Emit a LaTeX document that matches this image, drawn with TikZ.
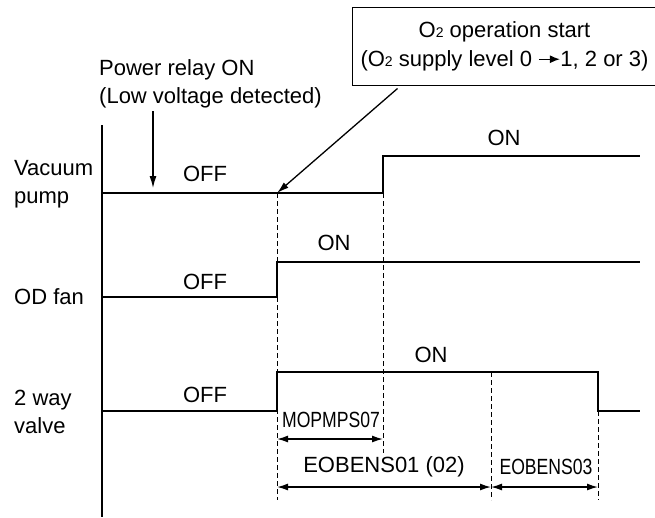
\documentclass[tikz,border=0pt]{standalone}
\usepackage{fontspec}
\setmainfont{Liberation Sans}
\newfontfamily\condfont[FakeStretch=0.8]{Liberation Sans}
\usetikzlibrary{arrows.meta,positioning}

\newcommand{\Otwo}{O{\fontsize{14}{14}\selectfont 2}}
\newcommand{\levelto}{\tikz[baseline=-0.6ex]\draw[-{Latex[length=10pt,width=8pt]}, line width=1.2pt] (0,0) -- (21pt,0);}

\begin{document}
\begin{tikzpicture}[
    x=1pt, y=-1pt,
    font=\fontsize{22}{28}\selectfont,
    signal/.style={line width=2.6pt, line join=miter},
    axis/.style={line width=1.5pt},
    guide/.style={line width=1pt, dash pattern=on 5pt off 3pt},
    span/.style={{Latex[length=11pt,width=7pt]}-{Latex[length=11pt,width=7pt]}, line width=1.4pt},
    arrow/.style={-{Latex[length=12pt,width=7pt]}, line width=1.3pt},
    lbl/.style={inner sep=0pt},
    signame/.style={inner sep=0pt, anchor=west, align=left},
    callout/.style={draw, line width=1pt, align=center, inner sep=0pt, minimum width=305pt, minimum height=78pt, font=\fontsize{22}{29}\selectfont}
]
\useasboundingbox (0,0) rectangle (655,517);

% signal names
\node[signame] (vp) at (14,184) {Vacuum\\pump};
\node[signame] (od) at (14,297) {OD fan};
\node[signame] (vv) at (14,412) {2 way\\valve};

% time axis
\draw[axis] (102,125) -- (102,517);

% guide lines
\draw[guide] (277,193) -- (277,500);
\draw[guide] (383,193) -- (383,453);
\draw[guide] (491,372) -- (491,500);
\draw[guide] (598,411) -- (598,500);

% waveforms
\draw[signal] (102,193) -- (383,193) -- (383,156) -- (640,156);
\draw[signal] (102,297) -- (277,297) -- (277,262) -- (640,262);
\draw[signal] (102,411) -- (277,411) -- (277,372) -- (598,372) -- (598,411) -- (640,411);

% states
\node[lbl] (vpoff) at (205,174) {OFF};
\node[lbl] (vpon) at (504,138) {ON};
\node[lbl] (odoff) at (205,282) {OFF};
\node[lbl] (odon) at (334,243) {ON};
\node[lbl] (vvoff) at (205,395) {OFF};
\node[lbl] (vvon) at (431,355) {ON};

% events
\node[lbl, anchor=west, align=left] (relay) at (99,84) {Power relay ON\\(Low voltage detected)};
\coordinate (relayhit) at (153,188);
\draw[arrow] ([yshift=-3pt]relay.south -| relayhit) -- (relayhit);

\node[callout] (start) at (504.5,46) {\Otwo{} operation start\\(\Otwo{} supply level 0 \levelto1, 2 or 3)};
\coordinate (starthit) at (277,193);
\draw[arrow] ([shift={(46,3)}]start.south west) -- (starthit);

% timers
\coordinate (a1) at (277,439);
\coordinate (a2) at (383,439);
\coordinate (b1) at (277,487);
\coordinate (b2) at (491,487);
\coordinate (b3) at (598,487);
\draw[span] (a1) -- (a2);
\draw[span] (b1) -- (b2);
\draw[span] (b2) -- (b3);
\node[lbl, font=\fontsize{22}{28}\condfont] (mop) at (331,420) {MOPMPS07};
\node[lbl] (eob1) at (384,467) {EOBENS01 (02)};
\node[lbl, font=\fontsize{22}{28}\condfont] (eob3) at (546,467) {EOBENS03};
\end{tikzpicture}
\end{document}
